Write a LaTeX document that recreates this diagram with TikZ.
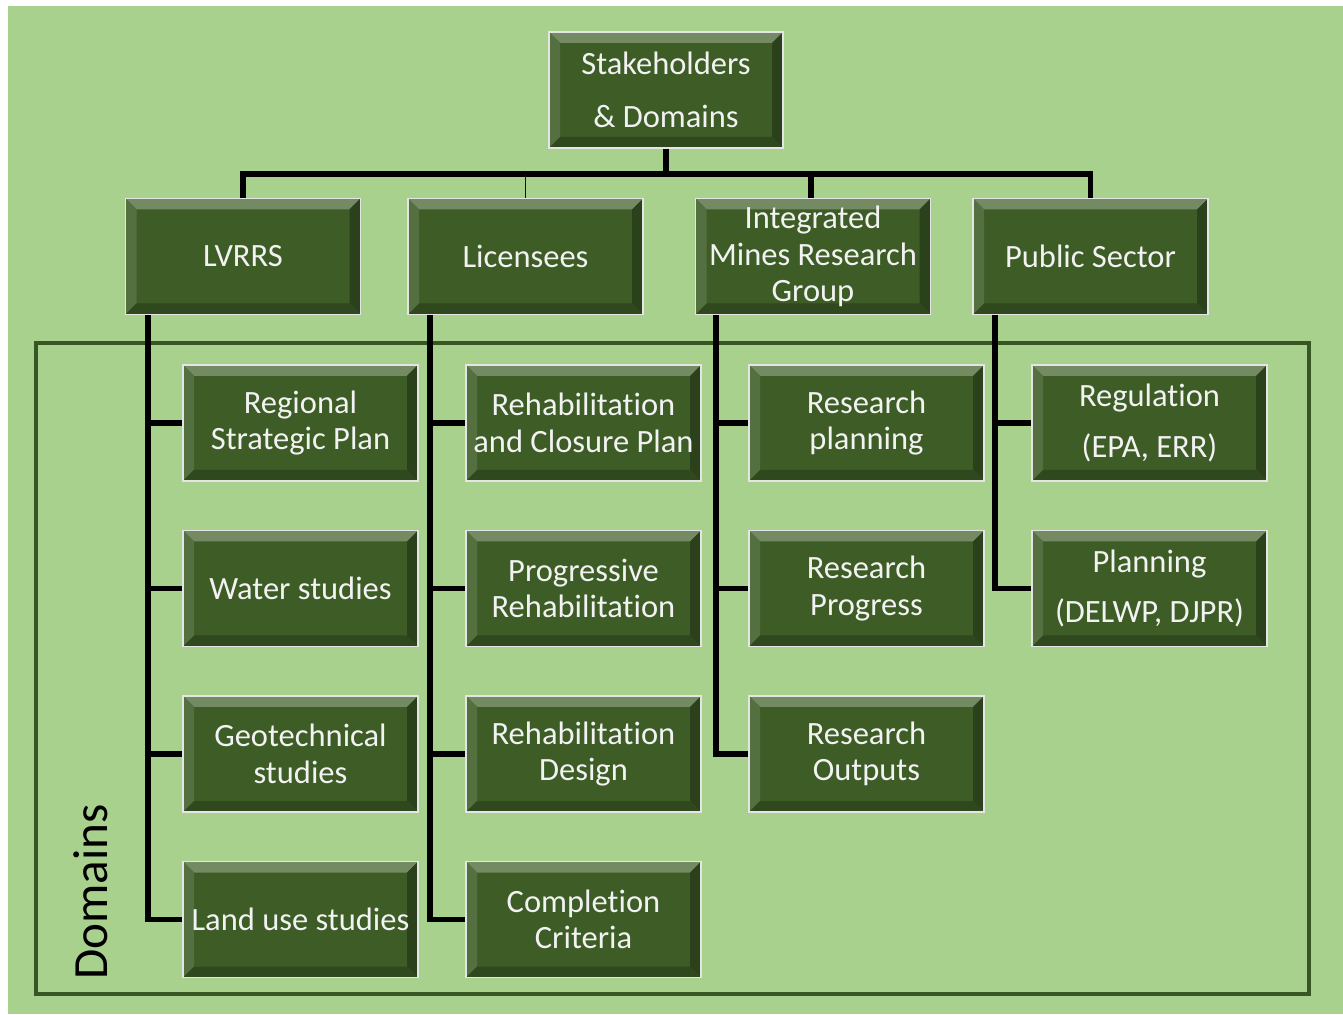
\documentclass[tikz,border=0pt]{standalone}
\usepackage{fontspec}
\setmainfont[Ligatures={NoCommon,NoContextual}, RawFeature=-liga, RawFeature=-calt, RawFeature=-clig]{Carlito}
\usetikzlibrary{positioning}
\definecolor{bggreen}{HTML}{A9D18E}
\definecolor{boxgreen}{HTML}{3D5C26}
\definecolor{framegreen}{HTML}{375623}
\definecolor{boxtext}{HTML}{F2F2F2}
\begin{document}
\begin{tikzpicture}[
  box/.style={rectangle, draw=gray!20, line width=0.8pt, fill=boxgreen, text=boxtext,
    minimum width=4.7cm, minimum height=2.32cm, inner sep=2pt, align=center,
    font=\fontsize{18.5}{20.8}\selectfont, bevel},
  bevel/.style={path picture={
    \coordinate (bvnw) at (path picture bounding box.north west);
    \coordinate (bvne) at (path picture bounding box.north east);
    \coordinate (bvsw) at (path picture bounding box.south west);
    \coordinate (bvse) at (path picture bounding box.south east);
    \fill[boxgreen!72!white] (bvnw) -- (bvne) -- ([shift={(-0.22,-0.22)}]bvne) -- ([shift={(0.22,-0.22)}]bvnw) -- cycle;
    \fill[boxgreen!88!white] (bvnw) -- (bvsw) -- ([shift={(0.22,0.22)}]bvsw) -- ([shift={(0.22,-0.22)}]bvnw) -- cycle;
    \fill[boxgreen!70!black] (bvne) -- (bvse) -- ([shift={(-0.22,0.22)}]bvse) -- ([shift={(-0.22,-0.22)}]bvne) -- cycle;
    \fill[boxgreen!78!black] (bvsw) -- (bvse) -- ([shift={(-0.22,0.22)}]bvse) -- ([shift={(0.22,0.22)}]bvsw) -- cycle;
  }},
  link/.style={line width=3.2pt, black},
  node distance=3.31cm
]

% Background and domain frame
\fill[white] (0,0) rectangle (26.86,-20.30);
\useasboundingbox (0,0) rectangle (26.86,-20.30);
\fill[bggreen] (0.16,-0.12) rectangle (26.86,-20.28);
\draw[line width=2.8pt, framegreen] (0.72,-6.86) rectangle (26.18,-19.88);
\node[rotate=90, font=\fontsize{28}{32}\selectfont] (domains) at (1.82,-17.84) {Domains};

% Top level
\node[box, minimum width=4.68cm] (stake) at (13.32,-1.80) {Stakeholders\\[9pt]\& Domains};

% Stakeholders
\node[box] (lvrrs) at (4.86,-5.13) {LVRRS};
\node[box, right of=lvrrs, node distance=5.65cm] (lic) {Licensees};
\node[box, right of=lic, node distance=5.75cm] (imrg) {Integrated\\Mines Research\\Group};
\node[box, right of=imrg, node distance=5.55cm] (pub) {Public Sector};

% LVRRS domains
\node[box] (regional) at (6.01,-8.46) {Regional\\Strategic Plan};
\node[box, below of=regional] (water) {Water studies};
\node[box, below of=water] (geotech) {Geotechnical\\studies};
\node[box, below of=geotech] (landuse) {Land use studies};

% Licensee domains
\node[box, right of=regional, node distance=5.66cm] (closure) {Rehabilitation\\and Closure Plan};
\node[box, below of=closure] (progressive) {Progressive\\Rehabilitation};
\node[box, below of=progressive] (design) {Rehabilitation\\Design};
\node[box, below of=design] (completion) {Completion\\Criteria};

% Research group domains
\node[box, right of=closure, node distance=5.66cm] (resplan) {Research\\planning};
\node[box, below of=resplan] (resprog) {Research\\Progress};
\node[box, below of=resprog] (resout) {Research\\Outputs};

% Public sector domains
\node[box, right of=resplan, node distance=5.66cm] (regulation) {Regulation\\[8pt](EPA, ERR)};
\node[box, below of=regulation] (planning) {Planning\\[8pt](DELWP, DJPR)};

% Bus
\draw[link] (stake.south) -- ++(0,-0.5) coordinate (bus);
\draw[link] (bus) -| (lvrrs.north);
\draw[link] ([xshift=-0.04cm]imrg.north |- bus) -- ([xshift=-0.04cm]imrg.north);
\draw[link] (bus) -| (pub.north);
\draw[blue!60!black, thin] (lic.north) -- (lic.north |- bus);

% Trunks
\draw[link] ([xshift=0.46cm]lvrrs.south west) |- (regional.west);
\draw[link] ([xshift=0.46cm]lvrrs.south west) |- (water.west);
\draw[link] ([xshift=0.46cm]lvrrs.south west) |- (geotech.west);
\draw[link] ([xshift=0.46cm]lvrrs.south west) |- (landuse.west);
\draw[link] ([xshift=0.46cm]lic.south west) |- (closure.west);
\draw[link] ([xshift=0.46cm]lic.south west) |- (progressive.west);
\draw[link] ([xshift=0.46cm]lic.south west) |- (design.west);
\draw[link] ([xshift=0.46cm]lic.south west) |- (completion.west);
\draw[link] ([xshift=0.42cm]imrg.south west) |- (resplan.west);
\draw[link] ([xshift=0.42cm]imrg.south west) |- (resprog.west);
\draw[link] ([xshift=0.42cm]imrg.south west) |- (resout.west);
\draw[link] ([xshift=0.46cm]pub.south west) |- (regulation.west);
\draw[link] ([xshift=0.46cm]pub.south west) |- (planning.west);

\end{tikzpicture}
\end{document}
